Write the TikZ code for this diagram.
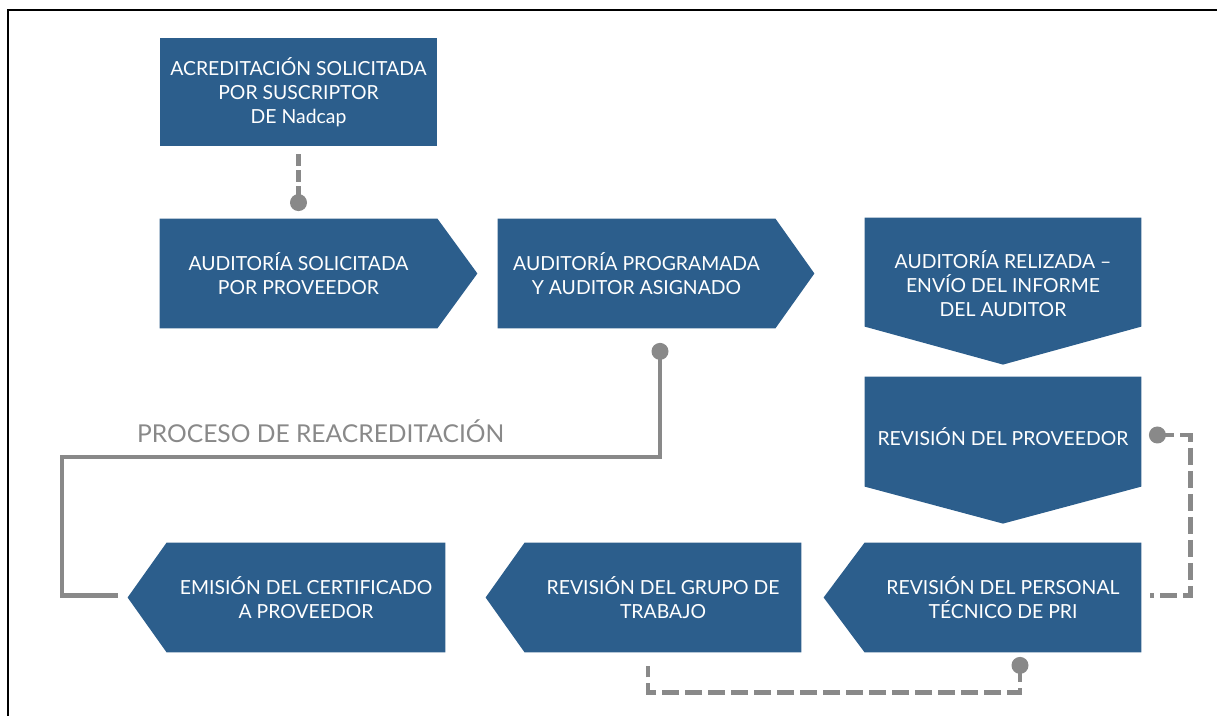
\documentclass[tikz,border=0pt]{standalone}
\usepackage{fontspec}
\setmainfont{Lato}
\usetikzlibrary{calc,backgrounds}
\definecolor{boxblue}{RGB}{44,94,140}
\definecolor{linegray}{RGB}{137,137,137}

\begin{document}
\begin{tikzpicture}[x=0.5pt,y=-0.5pt] % one unit = one pixel of the sketch
\tikzset{%
  stepbox/.style={rectangle,fill=boxblue,text=white,inner sep=0pt,
    minimum width=138.5pt,minimum height=54.5pt,align=center,
    font=\fontsize{9.7}{12}\selectfont},
  link/.style={draw=linegray,line width=2.3pt},
  dashlink/.style={link,dash pattern=on 8.5pt off 3pt},
  mark dot/.style={fill=linegray,circle,inner sep=0pt,minimum size=8.5pt}
}
\newcommand\RightTip[2]{% node, length of the point
  \fill[boxblue] (#1.north west) -- (#1.north east) -- ($(#1.east)+(#2,0)$)
    -- (#1.south east) -- (#1.south west) -- cycle;}
\newcommand\LeftTip[2]{%
  \fill[boxblue] (#1.north east) -- (#1.north west) -- ($(#1.west)+(-#2,0)$)
    -- (#1.south west) -- (#1.south east) -- cycle;}

\useasboundingbox (0,0) rectangle (1217,716);

%% frame

\draw[line width=1.2pt] (8,716) -- (8,10) -- (1217,10);

%% first row

\node[stepbox,minimum height=54pt] (acred) at (298.5,92)
  {ACREDITACIÓN SOLICITADA\\POR SUSCRIPTOR\\DE Nadcap};
\node[stepbox] (solic) at (298.5,273.5) {AUDITORÍA SOLICITADA\\POR PROVEEDOR};
\node[stepbox] (progr) at (636.5,273.5) {AUDITORÍA PROGRAMADA\\Y AUDITOR ASIGNADO};

%% right column, pointing down

\node[stepbox,fill=none,minimum width=138pt,minimum height=66pt] (realiz) at (1003,284)
  {AUDITORÍA RELIZADA --\\ENVÍO DEL INFORME\\DEL AUDITOR};
\node[stepbox,fill=none,minimum width=138pt,minimum height=60pt] (revprov) at (1003,437)
  {REVISIÓN DEL PROVEEDOR};

%% bottom row, pointing left

\node[stepbox,fill=none,minimum width=138pt] (revtec) at (1003,597.5)
  {REVISIÓN DEL PERSONAL\\TÉCNICO DE PRI};
\node[stepbox,fill=none,minimum width=138pt] (revgrupo) at (663,597.5)
  {REVISIÓN DEL GRUPO DE\\TRABAJO};
\node[stepbox,fill=none,minimum width=139pt] (emision) at (306,597.5)
  {EMISIÓN DEL CERTIFICADO\\A PROVEEDOR};

%% arrow shapes behind the texts

\begin{scope}[on background layer]
\RightTip{solic}{40}
\RightTip{progr}{39}
\fill[boxblue] (realiz.north west) -- (realiz.north east) -- ++(0,109)
  -- ($(realiz.north)+(0,147)$) -- ($(realiz.north west)+(0,109)$) -- cycle;
\fill[boxblue] (revprov.north west) -- (revprov.north east) -- ++(0,110)
  -- ($(revprov.north)+(0,147)$) -- ($(revprov.north west)+(0,110)$) -- cycle;
\LeftTip{revtec}{41}
\LeftTip{revgrupo}{39}
\LeftTip{emision}{39}
\end{scope}

%% connectors

\node[mark dot] (dotA) at ($(solic.north)+(0,-16)$) {};
\draw[link,dash pattern=on 6pt off 2pt] ($(acred.south)+(0,8)$) -- (dotA.center);

\node[mark dot] (dotC) at ($(progr.south)+(23.5,23)$) {};
\draw[link] (dotC.center) |- (62,457) |- ($(emision.west)+(-49,-2)$);
\node[anchor=base west,text=linegray,font=\fontsize{12.3}{14}\selectfont] (reacred)
  at (130,443) {PROCESO DE REACREDITACIÓN};

\node[mark dot] (dotE) at ($(revprov.east)+(16,-2)$) {};
\draw[dashlink] (dotE.center) -| ($(revtec.east)+(49,-2)$) -- ($(revtec.east)+(9,-2)$);

\node[mark dot] (dotF) at ($(revtec.south)+(17,13)$) {};
\draw[dashlink] (dotF.center) -- ++(0,27) -| ($(revgrupo.south)+(-15,14)$);
\end{tikzpicture}
\end{document}
